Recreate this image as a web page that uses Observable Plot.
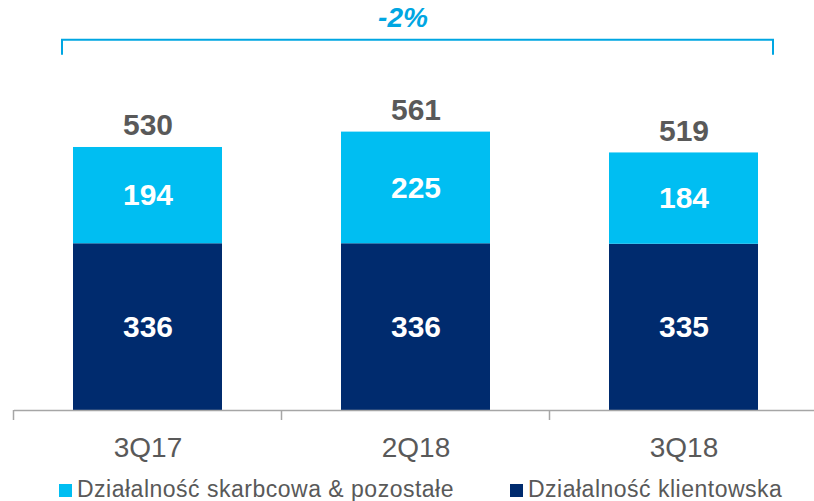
<!DOCTYPE html>
<html><head><meta charset="utf-8">
<script src="https://cdn.jsdelivr.net/npm/d3@7"></script>
<script src="https://cdn.jsdelivr.net/npm/@observablehq/plot@0.6"></script>
<style>
body{margin:0;background:#fff;font-family:"Liberation Sans",Arial,sans-serif;overflow:hidden;}
#chart svg{display:block;}
#legend{position:absolute;left:0;top:478px;width:814px;height:22px;font-size:23px;line-height:22px;letter-spacing:0.5px;color:#595959;}
.item{position:absolute;display:flex;align-items:center;top:0;white-space:nowrap;}
.sw{width:13px;height:13px;margin-right:5px;margin-top:2px;}
</style></head>
<body>
<div id="chart"></div>
<div id="legend"></div>
<script>
const categories = ["3Q17", "2Q18", "3Q18"];
const seriesNames = ["Działalność skarbcowa & pozostałe", "Działalność klientowska"];
const treasuryValues = [194, 225, 184];
const clientValues = [336, 336, 335];
const totals = [530, 561, 519];
const changeLabel = "-2%";
const colors = ["#00BEF2", "#002B6E"];

const data = [];
categories.forEach((c, i) => {
  data.push({q: c, series: seriesNames[1], value: clientValues[i]});
  data.push({q: c, series: seriesNames[0], value: treasuryValues[i]});
});
const totalData = categories.map((c, i) => ({q: c, total: totals[i]}));

function bracketMark(index, scales, values, dims) {
  const x = scales.x, y = scales.y;
  const bw = x.bandwidth();
  const x0 = x(categories[0]) - 11;
  const x1 = x(categories[categories.length - 1]) + bw + 15;
  const yTop = y(746), yBot = y(716);
  return d3.create("svg:path")
    .attr("d", `M${x0},${yBot}V${yTop}H${x1}V${yBot}`)
    .attr("fill", "none").attr("stroke", "#00A6E2").attr("stroke-width", 2).node();
}

function boundaryTicks(index, scales, values, dims) {
  const x = scales.x, y = scales.y;
  const step = x.step();
  const bw = x.bandwidth();
  const g = d3.create("svg:g").attr("stroke", "#A6A6A6").attr("stroke-width", 1.5);
  categories.forEach((c) => {
    const b = x(c) - (step - bw) / 2;
    g.append("line").attr("x1", b).attr("x2", b).attr("y1", y(0)).attr("y2", y(0) + 10);
  });
  return g.node();
}

const chart = Plot.plot({
  width: 814,
  height: 470,
  marginTop: 13,
  marginBottom: 60,
  marginLeft: 14,
  marginRight: 0,
  style: {fontFamily: "'Liberation Sans', Arial, sans-serif", background: "#fff"},
  x: {domain: categories, range: [14, 818], paddingInner: 0.444, paddingOuter: 0.222, label: null},
  y: {domain: [0, 800], axis: null},
  color: {domain: seriesNames, range: colors},
  marks: [
    Plot.barY(data, {x: "q", y: "value", fill: "series", order: [seriesNames[1], seriesNames[0]]}),
    Plot.text(data, Plot.stackY({x: "q", y: "value", z: "series", order: [seriesNames[1], seriesNames[0]], text: d => String(d.value), fill: "white", fontSize: 30, fontWeight: "bold"})),
    Plot.text(totalData, {x: "q", y: "total", text: d => String(d.total), dy: -22, fill: "#595959", fontSize: 30, fontWeight: "bold"}),
    Plot.ruleY([0], {stroke: "#A6A6A6", strokeWidth: 1.5}),
    boundaryTicks,
    bracketMark,
    Plot.text([changeLabel], {x: () => categories[1], y: () => 790, text: d => d, dx: -13, fill: "#00A6E2", fontSize: 28, fontWeight: "bold", fontStyle: "italic"}),
    Plot.axisX({tickSize: 0, tickPadding: 27, fontSize: 28, fill: "#595959", label: null})
  ]
});
document.getElementById("chart").appendChild(chart);

const legend = document.getElementById("legend");
const lefts = [59, 510];
seriesNames.forEach((n, i) => {
  const it = document.createElement("div");
  it.className = "item";
  it.style.left = lefts[i] + "px";
  it.innerHTML = `<span class="sw" style="background:${colors[i]}"></span><span>${n}</span>`;
  legend.appendChild(it);
});
</script>
</body></html>
